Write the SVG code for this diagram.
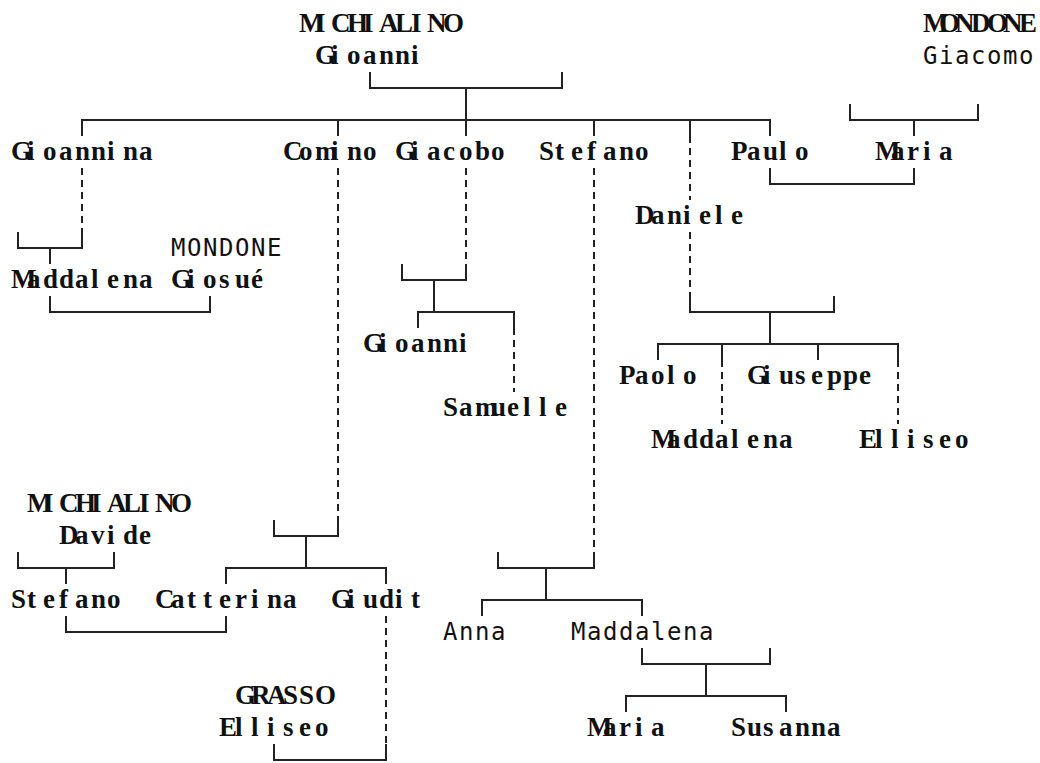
<svg xmlns="http://www.w3.org/2000/svg" width="1040" height="763" viewBox="0 0 1040 763">
<style>
.s{font-family:"Liberation Serif",serif;font-size:27px;font-weight:bold;fill:#111}
.d{font-family:"DejaVu Sans Mono",monospace;font-size:24px;fill:#111}
.ln{fill:none;stroke:#222;stroke-width:2}
.ds{fill:none;stroke:#222;stroke-width:2;stroke-dasharray:7 5}
</style>
<rect width="1040" height="763" fill="#fff"/>
<g id="connectors">
<path class="ln" d="M370 72V88H562V72M466 88V136"/>
<path class="ln" d="M82 136V120H770V136M338 120V136M594 120V136M690 120V136"/>
<path class="ln" d="M850 104V120H978V104M914 120V136"/>
<path class="ln" d="M770 168V184H914V168"/>
<path class="ln" d="M18 232V248H82V232M50 248V264"/>
<path class="ln" d="M402 264V280H466V264M434 280V296"/>
<path class="ln" d="M50 296V312H210V296"/>
<path class="ln" d="M418 328V312H514V328M434 296V312"/>
<path class="ln" d="M690 296V312H834V296M770 312V328"/>
<path class="ln" d="M658 360V344H898V360M770 328V344M722 344V360M818 344V360"/>
<path class="ln" d="M274 520V536H338V520M306 536V552"/>
<path class="ln" d="M226 584V568H386V584M306 552V568"/>
<path class="ln" d="M18 552V568H114V552M66 568V584"/>
<path class="ln" d="M498 552V568H594V552M546 568V584"/>
<path class="ln" d="M482 616V600H642V616M546 584V600"/>
<path class="ln" d="M66 616V632H226V616"/>
<path class="ln" d="M642 648V664H770V648M706 664V680"/>
<path class="ln" d="M626 712V696H786V712M706 680V696"/>
<path class="ln" d="M274 744V760H386V744"/>
<path class="ds" d="M82 168V232"/>
<path class="ds" d="M338 168V520"/>
<path class="ds" d="M466 168V264"/>
<path class="ds" d="M594 168V552"/>
<path class="ds" d="M690 136V200"/>
<path class="ds" d="M690 232V296"/>
<path class="ds" d="M514 328V392"/>
<path class="ds" d="M722 360V424"/>
<path class="ds" d="M898 360V424"/>
<path class="ds" d="M386 616V744"/>
</g>
<g id="n-michialino-gioanni"><text class="s" x="299 315 331 347 363 379 395 411 427 443" y="32">MICHIALINO</text><text class="s" x="315 331 347 363 379 395 411" y="64">Gioanni</text></g>
<g id="n-mondone-giacomo"><text class="s" x="923 939 955 971 987 1003 1019" y="32">MONDONE</text><text class="d" x="923 939 955 971 987 1003 1019" y="64">Giacomo</text></g>
<g id="n-gioannina"><text class="s" x="11 27 43 59 75 91 107 123 139" y="160">Gioannina</text></g>
<g id="n-comino"><text class="s" x="283 299 315 331 347 363" y="160">Comino</text></g>
<g id="n-giacobo"><text class="s" x="395 411 427 443 459 475 491" y="160">Giacobo</text></g>
<g id="n-stefano1"><text class="s" x="539 555 571 587 603 619 635" y="160">Stefano</text></g>
<g id="n-paulo"><text class="s" x="731 747 763 779 795" y="160">Paulo</text></g>
<g id="n-maria1"><text class="s" x="875 891 907 923 939" y="160">Maria</text></g>
<g id="n-daniele"><text class="s" x="635 651 667 683 699 715 731" y="224">Daniele</text></g>
<g id="n-maddalena1"><text class="s" x="11 27 43 59 75 91 107 123 139" y="288">Maddalena</text></g>
<g id="n-mondone-giosue"><text class="d" x="171 187 203 219 235 251 267" y="256">MONDONE</text><text class="s" x="171 187 203 219 235 251" y="288">Giosué</text></g>
<g id="n-gioanni2"><text class="s" x="363 379 395 411 427 443 459" y="352">Gioanni</text></g>
<g id="n-samuelle"><text class="s" x="443 459 475 491 507 523 539 555" y="416">Samuelle</text></g>
<g id="n-paolo"><text class="s" x="619 635 651 667 683" y="384">Paolo</text></g>
<g id="n-giuseppe"><text class="s" x="747 763 779 795 811 827 843 859" y="384">Giuseppe</text></g>
<g id="n-maddalena2"><text class="s" x="651 667 683 699 715 731 747 763 779" y="448">Maddalena</text></g>
<g id="n-elliseo1"><text class="s" x="859 875 891 907 923 939 955" y="448">Elliseo</text></g>
<g id="n-michialino-davide"><text class="s" x="27 43 59 75 91 107 123 139 155 171" y="512">MICHIALINO</text><text class="s" x="59 75 91 107 123 139" y="544">Davide</text></g>
<g id="n-stefano2"><text class="s" x="11 27 43 59 75 91 107" y="608">Stefano</text></g>
<g id="n-catterina"><text class="s" x="155 171 187 203 219 235 251 267 283" y="608">Catterina</text></g>
<g id="n-giudit"><text class="s" x="331 347 363 379 395 411" y="608">Giudit</text></g>
<g id="n-anna"><text class="d" x="443 459 475 491" y="640">Anna</text></g>
<g id="n-maddalena3"><text class="d" x="571 587 603 619 635 651 667 683 699" y="640">Maddalena</text></g>
<g id="n-grasso-elliseo"><text class="s" x="235 251 267 283 299 315" y="704">GRASSO</text><text class="s" x="219 235 251 267 283 299 315" y="736">Elliseo</text></g>
<g id="n-maria2"><text class="s" x="587 603 619 635 651" y="736">Maria</text></g>
<g id="n-susanna"><text class="s" x="731 747 763 779 795 811 827" y="736">Susanna</text></g>
</svg>
